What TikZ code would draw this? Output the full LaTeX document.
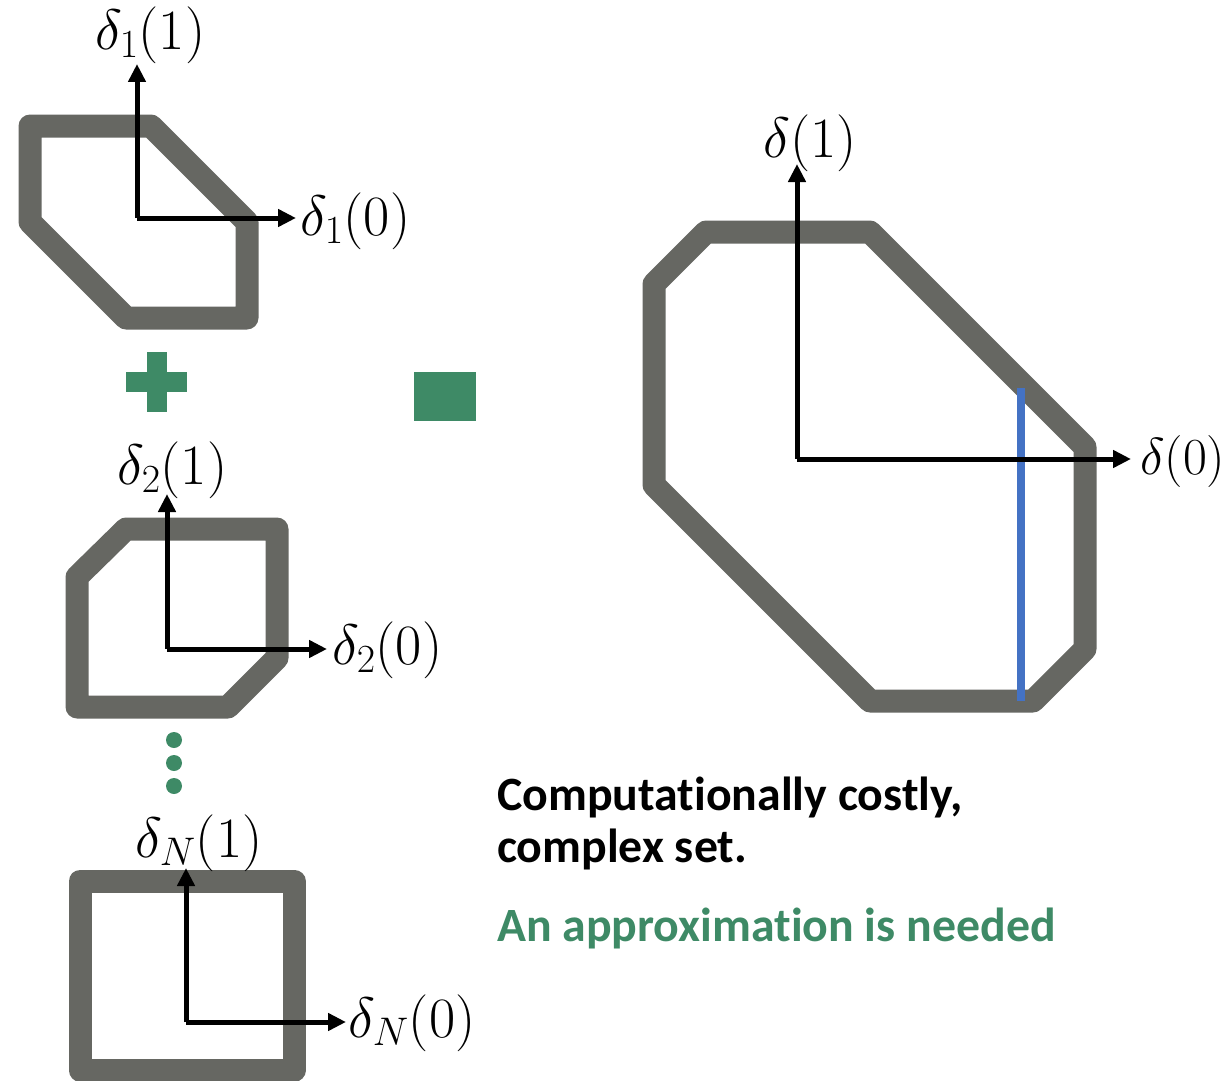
\RequirePackage{fix-cm}
\documentclass[tikz,border=0pt]{standalone}
\usepackage{fontspec}
\newfontfamily\carlito[Ligatures=NoCommon]{Carlito}
\usetikzlibrary{arrows.meta}
\definecolor{setgray}{HTML}{666762}
\definecolor{mygreen}{HTML}{3E8A66}
\definecolor{myblue}{HTML}{4472C4}
\tikzset{
  setline/.style={draw=setgray, line width=23pt, line join=round},
  axis/.style={draw=black, line width=5pt, -{Triangle[length=18pt,width=17pt]}},
  mlabel/.style={inner sep=0pt, anchor=west, font=\fontsize{57}{68}\selectfont},
  tlabel/.style={inner sep=0pt, anchor=base west, font=\carlito\bfseries\fontsize{47.8}{55}\selectfont},
}
\begin{document}
\begin{tikzpicture}[x=1pt,y=-1pt]
\useasboundingbox (0,0) rectangle (1232,1081);

% set 1
\draw[setline] (30,126) -- (151,126) -- (247,222) -- (247,318) -- (126,318) -- (30,222) -- cycle;
\coordinate (o1) at (137,218);
\coordinate (v1) at (137,64);
\coordinate (h1) at (296,218);
\draw[axis] (o1) -- (v1);
\draw[axis] (o1) -- (h1);
\node[mlabel] (l11) at (95,35) {$\delta_1(1)$};
\node[mlabel] (l10) at (300,221) {$\delta_1(0)$};

% plus
\fill[mygreen] (147,352) rectangle (167,412);
\fill[mygreen] (126,372) rectangle (187,392);

% equals (solid block)
\fill[mygreen] (414,372) rectangle (476,421);

% set 2
\draw[setline] (77,577) -- (126,529) -- (277,529) -- (277,658) -- (228,707) -- (77,707) -- cycle;
\coordinate (o2) at (167,649);
\coordinate (v2) at (167,494);
\coordinate (h2) at (327,649);
\draw[axis] (o2) -- (v2);
\draw[axis] (o2) -- (h2);
\node[mlabel] (l21) at (117,470) {$\delta_2(1)$};
\node[mlabel] (l20) at (332,650) {$\delta_2(0)$};

% dots
\fill[mygreen] (174,740) circle (8);
\fill[mygreen] (174,763) circle (8);
\fill[mygreen] (174,786) circle (8);

% set N
\draw[setline] (80,881) rectangle (294,1070);
\coordinate (o3) at (186,1022);
\coordinate (v3) at (186,868);
\coordinate (h3) at (346,1022);
\draw[axis] (o3) -- (v3);
\draw[axis] (o3) -- (h3);
\node[mlabel] (lN1) at (135,843) {$\delta_N(1)$};
\node[mlabel] (lN0) at (348,1023) {$\delta_N(0)$};

% big set
\draw[setline] (654,284) -- (706,232) -- (870,232) -- (1085,447) -- (1085,649) -- (1033,701) -- (870,701) -- (654,485) -- cycle;
\draw[myblue, line width=8pt] (1021,388) -- (1021,701);
\coordinate (o4) at (797,459);
\coordinate (v4) at (797,164);
\coordinate (h4) at (1131,459);
\draw[axis] (o4) -- (v4);
\draw[axis] (o4) -- (h4);
\node[mlabel] (lb1) at (763,143) {$\delta(1)$};
\node[mlabel, font=\fontsize{52}{62}\selectfont] (lb0) at (1140,461) {$\delta(0)$};

% text
\node[tlabel] (t1) at (497,810) {Computationally costly,};
\node[tlabel] (t2) at (497,862) {complex set.};
\node[tlabel, text=mygreen] (t3) at (497,941) {An approximation is needed};
\end{tikzpicture}
\end{document}
